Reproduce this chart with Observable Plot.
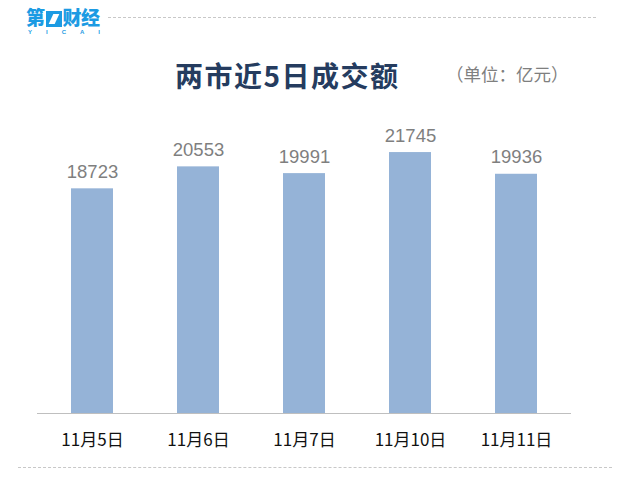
<!DOCTYPE html>
<html>
<head>
<meta charset="utf-8">
<script src="https://cdn.jsdelivr.net/npm/d3@7"></script>
<script src="https://cdn.jsdelivr.net/npm/@observablehq/plot@0.6"></script>
<style>
  html, body { margin: 0; padding: 0; background: #fff; }
  #wrap { position: relative; width: 626px; height: 485px; overflow: hidden; font-family: "Noto Sans CJK SC", "Noto Sans", sans-serif; }
  #chart { position: absolute; left: 0; top: 0; }
  .abs { position: absolute; white-space: nowrap; }
  #logo { left: 26px; top: 6px; color: #1c9be3; font-weight: 900; font-size: 19px; line-height: 22px; letter-spacing: -0.5px; }
  #logo .box { display: inline-block; width: 16px; height: 16px; background: #1c9be3; vertical-align: -2px; position: relative; margin: 0 1px; }
  #logo .box::after { content: ""; position: absolute; left: 5px; top: 3px; width: 6px; height: 10px; background: #fff; transform: skewX(-25deg); }
  #yicai { left: 28px; top: 29px; width: 72px; display: flex; justify-content: space-between; color: #1c9be3; font-family: "Liberation Sans", sans-serif; font-size: 6px; font-weight: bold; line-height: 7px; }
  .dash { position: absolute; height: 0; border-top: 1px dashed #c8c8c8; }
  #title { left: 175px; top: 56px; color: #253c5f; font-weight: 700; font-size: 28px; line-height: 38px; letter-spacing: 1.5px; }
  #unit { left: 446px; top: 61px; color: #7f7f7f; font-size: 17.5px; line-height: 26px; }
</style>
</head>
<body>
<div id="wrap">
  <div id="chart"></div>
  <div class="abs" id="logo">第<span class="box"></span>财经</div>
  <div class="abs" id="yicai"><span>Y</span><span>I</span><span>C</span><span>A</span><span>I</span></div>
  <div class="dash" style="left:108px; top:17px; width:488px;"></div>
  <div class="dash" style="left:18px; top:467px; width:594px;"></div>
  <div class="abs" id="title">两市近5日成交额</div>
  <div class="abs" id="unit">（单位：亿元）</div>
</div>
<script>
const dates = ["11月5日", "11月6日", "11月7日", "11月10日", "11月11日"];
const values = [18723, 20553, 19991, 21745, 19936];

const data = dates.map((d, i) => ({date: d, value: values[i]}));

const chart = Plot.plot({
  width: 626,
  height: 485,
  marginLeft: 37,
  marginRight: 55,
  marginTop: 113,
  marginBottom: 72,
  style: {background: "transparent", fontFamily: "\"Noto Sans CJK SC\", sans-serif"},
  x: {domain: dates, paddingInner: 0.6, paddingOuter: 0.3, label: null},
  y: {domain: [0, 25000], axis: null},
  marks: [
    Plot.barY(data, {x: "date", y: "value", fill: "#95b3d7"}),
    Plot.ruleY([0], {stroke: "#bfbfbf", strokeWidth: 1.2}),
    Plot.axisX({tickSize: 0, tickPadding: 20, fontSize: 17, fill: "#111", label: null}),
    Plot.text(data, {x: "date", y: "value", text: d => String(d.value), lineAnchor: "bottom", dy: -11,
      fontSize: 18.5, fill: "#7f7f7f", fontFamily: "\"Liberation Sans\", Arial, sans-serif"})
  ]
});
document.getElementById("chart").appendChild(chart);
</script>
</body>
</html>
